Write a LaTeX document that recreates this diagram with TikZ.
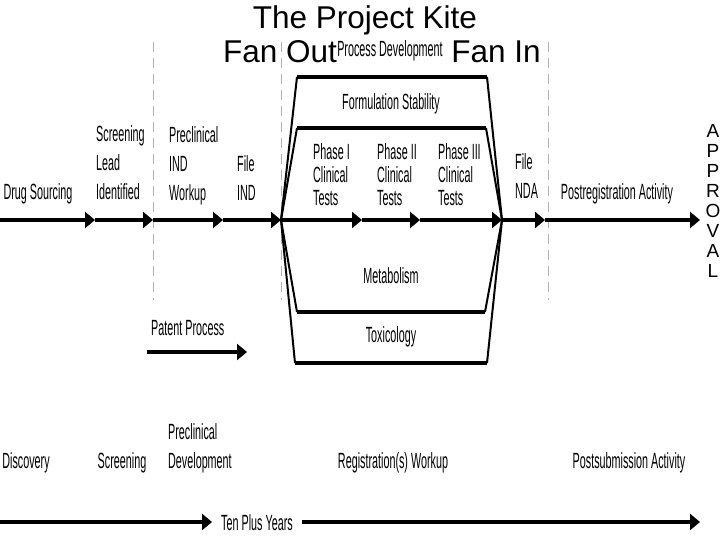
\documentclass[tikz,border=0pt]{standalone}
\usepackage{fontspec}
\setmainfont{Liberation Sans}
\newfontfamily\narrowfont[FakeStretch=0.49]{Liberation Sans}
\usetikzlibrary{arrows.meta,positioning}

\tikzset{
  lbl/.style={font=\narrowfont\fontsize{22}{29}\selectfont, inner sep=0pt, align=left},
  phaselbl/.style={lbl, font=\narrowfont\fontsize{22}{23}\selectfont},
  big/.style={font=\fontsize{31.5}{36}\selectfont, inner sep=0pt},
  vert/.style={font=\fontsize{19}{20}\selectfont, inner sep=0pt},
  axis/.style={line width=4pt, -{Triangle[length=10pt,width=16pt]}},
  divider/.style={gray!60, line width=0.8pt, dash pattern=on 10pt off 6pt},
  kiteedge/.style={line width=2pt, line join=round},
  kitebar/.style={line width=4.5pt},
}

\begin{document}
\begin{tikzpicture}[x=1pt,y=-1pt]
  \useasboundingbox (0,0) rectangle (720,540);

  % Axis points and kite corners
  \foreach \i/\x in {0/0,1/95,2/153,3/223,4/281,5/362,6/420,7/502,8/545,9/700}
    \coordinate (a\i) at (\x,220);
  \coordinate (OT1) at (297,77);  \coordinate (OT2) at (487,77);
  \coordinate (IT1) at (297,128); \coordinate (IT2) at (486,128);
  \coordinate (IB1) at (297,312); \coordinate (IB2) at (485,312);
  \coordinate (OB1) at (295,363); \coordinate (OB2) at (487,363);

  % Dividers
  \foreach \i in {2,4}
    \draw[divider] (a\i) ++(0,-178) -- ++(0,258);
  \draw[divider] (548,42) -- (548,300);

  % Define nodes
  \node[big, anchor=base] (T) at (365,29) {The Project Kite};
  \node[big, anchor=base] (FO) at (280,63) {Fan Out};
  \node[big, anchor=base] (FI) at (496,63) {Fan In};

  \node[lbl, anchor=base] (DS) at (38,200) {Drug Sourcing};
  \node[lbl, anchor=west] (SL) at (96,163) {Screening\\Lead\\Identified};
  \node[lbl, anchor=west] (PI) at (169,166) {Preclinical\\IND\\Workup};
  \node[lbl, anchor=west] (FIND) at (237,178) {File\\IND};
  \node[phaselbl, anchor=west] (P1) at (313,175) {Phase I\\Clinical\\Tests};
  \node[phaselbl, anchor=west] (P2) at (377,175) {Phase II\\Clinical\\Tests};
  \node[phaselbl, anchor=west] (P3) at (438,175) {Phase III\\Clinical\\Tests};
  \node[lbl, anchor=west] (FNDA) at (515,176) {File\\NDA};
  \node[lbl, anchor=base] (PR) at (617,200) {Postregistration Activity};

  \node[lbl, anchor=base] (PD) at (390,57) {Process Development};
  \node[lbl, anchor=base] (FS) at (391,110) {Formulation Stability};
  \node[lbl, anchor=base] (MB) at (391,283) {Metabolism};
  \node[lbl, anchor=base] (TX) at (391,342) {Toxicology};

  \node[lbl, anchor=base west] (PP) at (151,335) {Patent Process};

  \foreach \c [count=\k from 0] in {A,P,P,R,O,V,A,L}
    \node[vert] (ap\k) at (713,131+20*\k) {\c};

  \node[lbl, anchor=base] (DC) at (26,468) {Discovery};
  \node[lbl, anchor=base] (SC) at (122,468) {Screening};
  \node[lbl, anchor=west] (PDV) at (168,448) {Preclinical\\Development};
  \node[lbl, anchor=base] (RW) at (393,468) {Registration(s) Workup};
  \node[lbl, anchor=base] (PA) at (629,468) {Postsubmission Activity};
  \node[lbl, anchor=base, inner xsep=9pt] (TP) at (257,530) {Ten Plus Years};

  % Connect the nodes
  \foreach \i [count=\j] in {0,...,8}
    \draw[axis] (a\i) -- (a\j);

  % Kite
  \draw[kiteedge] (OT1) -- (a4) -- (OB1);
  \draw[kiteedge] (IT1) -- (a4) -- (IB1);
  \draw[kiteedge] (OT2) -- (a7) -- (OB2);
  \draw[kiteedge] (IT2) -- (a7) -- (IB2);
  \draw[kitebar] (OT1) -- (OT2);
  \draw[kitebar] (IT1) -- (IT2);
  \draw[kitebar] (IB1) -- (IB2);
  \draw[kitebar] (OB1) -- (OB2);

  % Patent and time arrows
  \coordinate (pp0) at (147,352);
  \draw[axis] (pp0) -- ++(100,0);
  \coordinate (b0) at (0,522);
  \coordinate (b1) at (700,522);
  \draw[axis] (b0) -- (b0 -| TP.west);
  \draw[axis] (b1 -| TP.east) -- (b1);
\end{tikzpicture}
\end{document}
